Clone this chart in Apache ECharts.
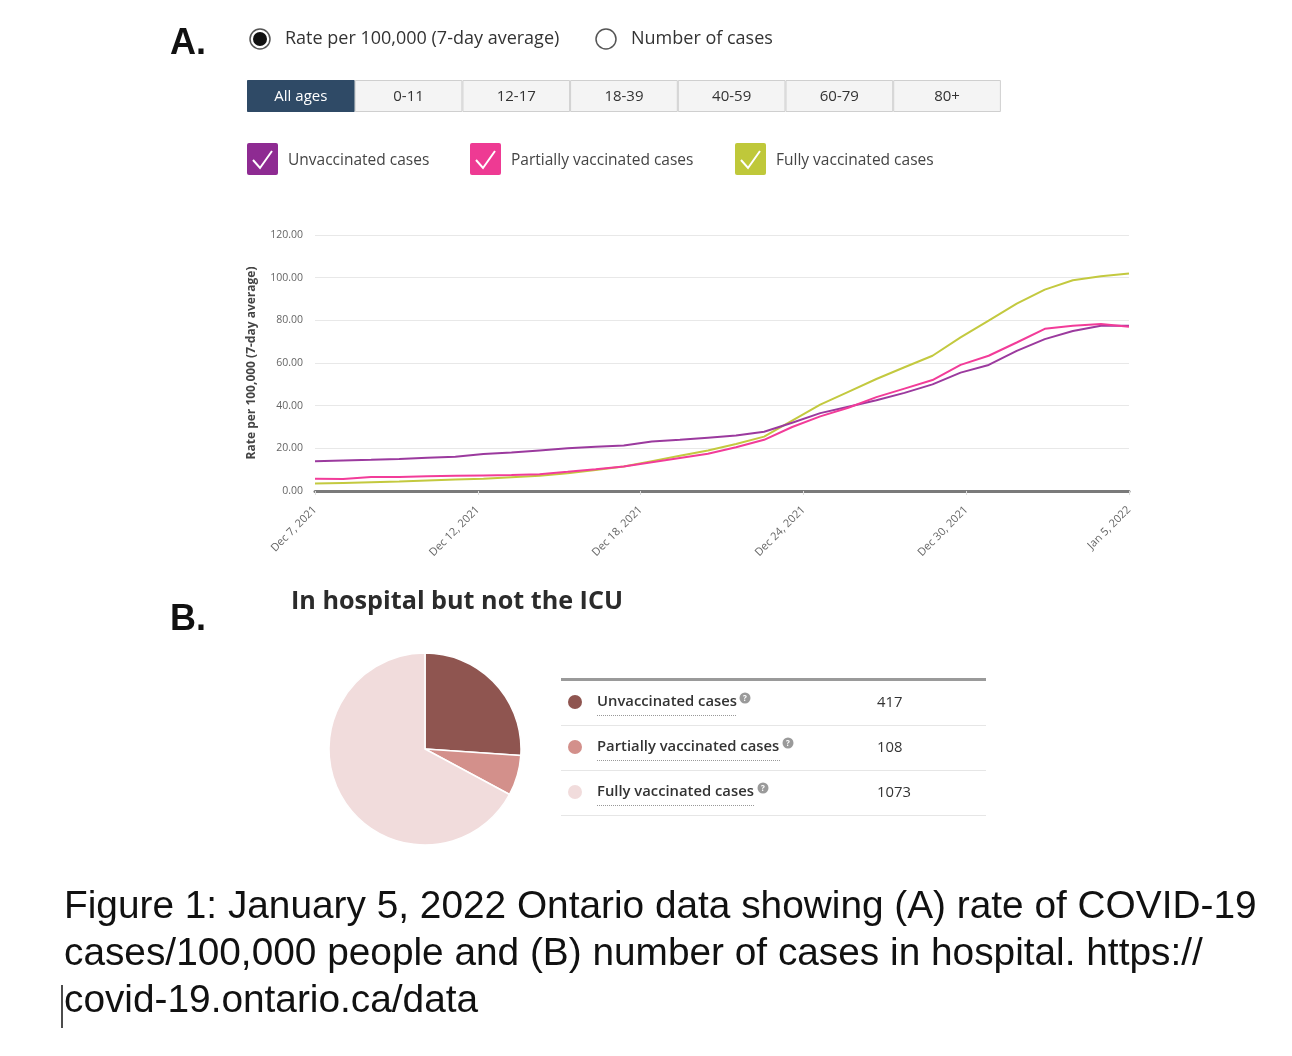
<!DOCTYPE html>
<html>
<head>
<meta charset="utf-8">
<script src="https://cdn.jsdelivr.net/npm/echarts@6/dist/echarts.min.js"></script>
<style>
html,body{margin:0;padding:0;background:#fff;}
#c{width:1292px;height:1056px;}
</style>
</head>
<body>
<div id="c"></div>
<script>
// ---- data ----
var dates = ["Dec 7, 2021","Dec 8, 2021","Dec 9, 2021","Dec 10, 2021","Dec 11, 2021","Dec 12, 2021","Dec 13, 2021","Dec 14, 2021","Dec 15, 2021","Dec 16, 2021","Dec 17, 2021","Dec 18, 2021","Dec 19, 2021","Dec 20, 2021","Dec 21, 2021","Dec 22, 2021","Dec 23, 2021","Dec 24, 2021","Dec 25, 2021","Dec 26, 2021","Dec 27, 2021","Dec 28, 2021","Dec 29, 2021","Dec 30, 2021","Dec 31, 2021","Jan 1, 2022","Jan 2, 2022","Jan 3, 2022","Jan 4, 2022","Jan 5, 2022"];
var unvaccinated = [14.0,14.3,14.6,15.0,15.6,16.0,17.3,18.0,19.0,20.0,20.7,21.3,23.2,24.0,25.0,26.0,27.8,32.0,36.5,39.5,42.5,46.0,50.0,55.5,59.1,65.7,71.2,75.0,77.5,77.5];
var partially = [5.8,5.6,6.6,6.6,6.9,7.1,7.3,7.5,7.9,9.0,10.2,11.5,13.5,15.5,17.5,20.5,24.0,30.0,35.0,39.0,44.0,48.0,52.0,59.1,63.4,69.6,76.0,77.5,78.3,77.0];
var fully = [3.5,3.8,4.1,4.4,4.9,5.4,5.8,6.5,7.2,8.3,9.8,11.5,14.0,16.5,19.0,22.0,25.5,33.0,40.5,46.5,52.5,58.0,63.4,72.0,79.9,87.8,94.4,98.8,100.7,102.0];
var seriesNames = ["Unvaccinated cases","Partially vaccinated cases","Fully vaccinated cases"];
var ageTabs = ["All ages","0-11","12-17","18-39","40-59","60-79","80+"];
var radioLabels = ["Rate per 100,000 (7-day average)","Number of cases"];
var hospitalLabels = ["Unvaccinated cases","Partially vaccinated cases","Fully vaccinated cases"];
var hospitalValues = [417,108,1073];
var captionLines = ["Figure 1: January 5, 2022 Ontario data showing (A) rate of COVID-19","cases/100,000 people and (B) number of cases in hospital. https://","covid-19.ontario.ca/data"];

// ---- styles ----
var lineColors = ["#9b3a9e","#f23c99","#c3c93f"];
var boxColors = ["#8e2b92","#ee3a93","#bfc83a"];
var pieColors = ["#8f5550","#d3908b","#f1dcdc"];
var uiFont = "'Open Sans', 'Noto Sans', sans-serif";

var chart = echarts.init(document.getElementById('c'), null, {renderer:'canvas'});

var g = [];
// Panel letters
g.push({type:'text', left:170, top:26, style:{text:'A.', font:"bold 36px 'Liberation Sans', Arial, sans-serif", fill:'#111'}});
g.push({type:'text', left:170, top:602, style:{text:'B.', font:"bold 36px 'Liberation Sans', Arial, sans-serif", fill:'#111'}});

// Radio buttons
g.push({type:'circle', shape:{cx:260, cy:39, r:10}, style:{fill:'#fff', stroke:'#555', lineWidth:1.5}});
g.push({type:'circle', shape:{cx:260, cy:39, r:7}, style:{fill:'#111'}});
g.push({type:'text', x:285, y:39, style:{text:radioLabels[0], font:"18px "+uiFont, fill:'#333', verticalAlign:'middle'}});
g.push({type:'circle', shape:{cx:606, cy:39, r:10}, style:{fill:'#fff', stroke:'#555', lineWidth:1.5}});
g.push({type:'text', x:631, y:39, style:{text:radioLabels[1], font:"18px "+uiFont, fill:'#333', verticalAlign:'middle'}});

// Age tabs
var tabX0 = 247, tabW = 107.7, tabY = 80, tabH = 31;
ageTabs.forEach(function(t, i){
  var sel = i === 0;
  g.push({type:'rect', shape:{x:tabX0 + i*tabW + 0.5, y:tabY + 0.5, width:tabW - 1, height:tabH}, style:{fill: sel ? '#2f4a66' : '#f4f4f4', stroke: sel ? '#2f4a66' : '#cfcfcf', lineWidth:1}});
  g.push({type:'text', x:tabX0 + i*tabW + tabW/2, y:tabY + tabH/2 + 1, style:{text:t, font:"15px "+uiFont, fill: sel ? '#fff' : '#333', align:'center', verticalAlign:'middle'}});
});

// Legend checkboxes
var legX = [247, 470, 735];
seriesNames.forEach(function(n, i){
  var x = legX[i], y = 143;
  g.push({type:'rect', shape:{x:x, y:y, width:31, height:32, r:2}, style:{fill:boxColors[i]}});
  g.push({type:'polyline', shape:{points:[[x+6,y+17],[x+13,y+25],[x+25,y+8]]}, style:{stroke:'#fff', lineWidth:2, fill:null}});
  g.push({type:'text', x:x+41, y:y+18, style:{text:n, font:"15.5px "+uiFont, fill:'#444', verticalAlign:'middle'}});
});

// Section B title
g.push({type:'text', x:291, y:602, style:{text:'In hospital but not the ICU', font:"bold 25.2px 'Open Sans', sans-serif", fill:'#2b2b2b', verticalAlign:'middle'}});

// Table
g.push({type:'line', shape:{x1:561, y1:679.5, x2:986, y2:679.5}, style:{stroke:'#9a9a9a', lineWidth:3}});
var rowY = [702, 747, 792];
var underlineEnd = [737, 780, 755];
hospitalLabels.forEach(function(l, i){
  var y = rowY[i];
  g.push({type:'circle', shape:{cx:575, cy:y, r:7}, style:{fill:pieColors[i]}});
  g.push({type:'text', x:597, y:y, style:{text:l, font:"600 14.8px "+uiFont, fill:'#333', verticalAlign:'middle'}});
  g.push({type:'line', shape:{x1:597, y1:y+13.5, x2:underlineEnd[i], y2:y+13.5}, style:{stroke:'#999', lineWidth:1, lineDash:[1,1]}});
  g.push({type:'circle', shape:{cx:underlineEnd[i]+8, cy:y-4, r:5.5}, style:{fill:'#9a9a9a'}});
  g.push({type:'text', x:underlineEnd[i]+8, y:y-3.5, style:{text:'?', font:"bold 8px "+uiFont, fill:'#fff', align:'center', verticalAlign:'middle'}});
  g.push({type:'text', x:877, y:y+1, style:{text:String(hospitalValues[i]), font:"14.8px "+uiFont, fill:'#333', verticalAlign:'middle'}});
  g.push({type:'line', shape:{x1:561, y1:y+23.5, x2:986, y2:y+23.5}, style:{stroke:'#e6e6e6', lineWidth:1}});
});

// Caption
captionLines.forEach(function(t, i){
  g.push({type:'text', x:64, y:907 + i*47, style:{text:t, font:"38.8px 'Liberation Sans', Arial, Helvetica, sans-serif", fill:'#111', verticalAlign:'middle'}});
});
g.push({type:'line', shape:{x1:62, y1:985, x2:62, y2:1028}, style:{stroke:'#111', lineWidth:1.5}});

function mkLine(name, arr, color){
  return {
    name:name, type:'line', symbol:'none', smooth:false,
    data: arr.map(function(v, i){ return [i, v]; }),
    lineStyle:{color:color, width:2}, itemStyle:{color:color},
    xAxisIndex:0, yAxisIndex:0, animation:false
  };
}

var option = {
  animation:false,
  backgroundColor:'#fff',
  grid:{left:315, right:163, top:235, bottom:565, containLabel:false},
  xAxis:{
    type:'value', min:0, max:dates.length - 1, interval:5.8,
    axisLine:{lineStyle:{color:'#7a7a7a', width:3}},
    axisTick:{show:true, length:4, lineStyle:{color:'#ddd'}},
    splitLine:{show:false},
    axisLabel:{
      rotate:45, fontSize:11, color:'#666', margin:17, fontFamily:uiFont,
      formatter:function(v){ return dates[Math.floor(v + 1e-6)] || ''; }
    }
  },
  yAxis:{
    type:'value', min:0, max:120, interval:20,
    name:'Rate per 100,000 (7-day average)', nameLocation:'middle', nameGap:57,
    nameTextStyle:{fontSize:12, fontWeight:'bold', color:'#444', fontFamily:uiFont},
    axisLine:{show:false}, axisTick:{show:false},
    splitLine:{lineStyle:{color:'#e8e8e8', width:1}},
    axisLabel:{fontSize:10.5, color:'#666', margin:12, fontFamily:uiFont, formatter:function(v){ return v.toFixed(2); }}
  },
  series:[
    mkLine(seriesNames[2], fully, lineColors[2]),
    mkLine(seriesNames[0], unvaccinated, lineColors[0]),
    mkLine(seriesNames[1], partially, lineColors[1]),
    {
      type:'pie', center:[425, 749], radius:96, startAngle:90, clockwise:true,
      label:{show:false}, labelLine:{show:false}, silent:true,
      itemStyle:{borderColor:'#fff', borderWidth:1.5},
      data: hospitalLabels.map(function(l, i){ return {name:l, value:hospitalValues[i], itemStyle:{color:pieColors[i]}}; })
    }
  ],
  graphic:g
};
chart.setOption(option);
</script>
</body>
</html>
